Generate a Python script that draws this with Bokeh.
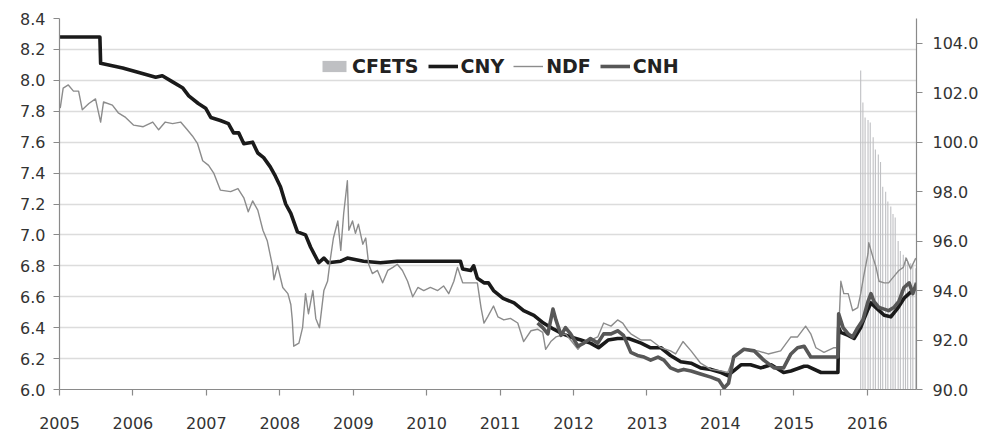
from bokeh.plotting import figure
from bokeh.models import (Range1d, LinearAxis, FixedTicker, NumeralTickFormatter,
                          Legend, LegendItem, ColumnDataSource)
from bokeh.embed import file_html
from bokeh.resources import INLINE

# ---------------- data ----------------
year_ticks = [2005, 2006, 2007, 2008, 2009, 2010, 2011, 2012, 2013, 2014, 2015, 2016]
left_ticks = [6.0, 6.2, 6.4, 6.6, 6.8, 7.0, 7.2, 7.4, 7.6, 7.8, 8.0, 8.2, 8.4]
right_ticks = [90, 92, 94, 96, 98, 100, 102, 104]

cny_t = [2005.00, 2005.55, 2005.56, 2005.86, 2006.08, 2006.31, 2006.40, 2006.54, 2006.68, 2006.76,
         2006.89, 2006.99, 2007.06, 2007.19, 2007.30, 2007.37, 2007.44, 2007.51, 2007.63, 2007.70,
         2007.78, 2007.87, 2007.94, 2008.01, 2008.08, 2008.15, 2008.24, 2008.35, 2008.42, 2008.53,
         2008.60, 2008.66, 2008.83, 2008.92, 2009.14, 2009.37, 2009.60, 2010.05, 2010.46, 2010.49,
         2010.60, 2010.64, 2010.69, 2010.78, 2010.84, 2010.91, 2011.04, 2011.19, 2011.32, 2011.46,
         2011.59, 2011.73, 2011.85, 2011.96, 2012.10, 2012.23, 2012.34, 2012.47, 2012.60, 2012.75,
         2012.92, 2013.05, 2013.19, 2013.32, 2013.46, 2013.60, 2013.73, 2013.87, 2014.01, 2014.10,
         2014.18, 2014.28, 2014.41, 2014.55, 2014.69, 2014.86, 2014.96, 2015.14, 2015.19, 2015.37,
         2015.60, 2015.61, 2015.64, 2015.74, 2015.82, 2015.91, 2015.95, 2016.01, 2016.05, 2016.14,
         2016.23, 2016.32, 2016.42, 2016.50, 2016.59, 2016.67]
cny_v = [8.28, 8.28, 8.11, 8.08, 8.05, 8.02, 8.03, 7.99, 7.95, 7.90,
         7.85, 7.82, 7.76, 7.74, 7.72, 7.66, 7.66, 7.59, 7.60, 7.53,
         7.50, 7.44, 7.38, 7.31, 7.20, 7.14, 7.02, 7.00, 6.92, 6.82,
         6.85, 6.82, 6.83, 6.85, 6.83, 6.82, 6.83, 6.83, 6.83, 6.78,
         6.77, 6.80, 6.72, 6.69, 6.69, 6.64, 6.59, 6.56, 6.51, 6.48,
         6.43, 6.39, 6.36, 6.34, 6.32, 6.30, 6.27, 6.32, 6.33, 6.33,
         6.30, 6.27, 6.27, 6.22, 6.18, 6.17, 6.14, 6.13, 6.11, 6.09,
         6.12, 6.16, 6.16, 6.14, 6.16, 6.11, 6.12, 6.15, 6.15, 6.11,
         6.11, 6.40, 6.37, 6.35, 6.33, 6.40, 6.45, 6.52, 6.56, 6.52,
         6.48, 6.47, 6.53, 6.59, 6.63, 6.66]

ndf_t = [2005.01, 2005.05, 2005.12, 2005.19, 2005.26, 2005.31, 2005.40, 2005.49, 2005.56, 2005.60,
         2005.72, 2005.80, 2005.90, 2006.01, 2006.14, 2006.27, 2006.35, 2006.44, 2006.54, 2006.65,
         2006.74, 2006.81, 2006.88, 2006.95, 2007.03, 2007.10, 2007.19, 2007.33, 2007.43, 2007.51,
         2007.57, 2007.63, 2007.70, 2007.77, 2007.83, 2007.90, 2007.92, 2007.97, 2008.04, 2008.11,
         2008.15, 2008.17, 2008.19, 2008.26, 2008.31, 2008.35, 2008.39, 2008.45, 2008.49, 2008.54,
         2008.60, 2008.65, 2008.69, 2008.73, 2008.79, 2008.83, 2008.87, 2008.92, 2008.94, 2008.99,
         2009.03, 2009.07, 2009.13, 2009.17, 2009.21, 2009.26, 2009.33, 2009.40, 2009.47, 2009.54,
         2009.60, 2009.67, 2009.74, 2009.81, 2009.88, 2009.96, 2010.05, 2010.15, 2010.23, 2010.30,
         2010.37, 2010.42, 2010.49, 2010.56, 2010.64, 2010.69, 2010.74, 2010.78, 2010.83, 2010.91,
         2010.97, 2011.05, 2011.14, 2011.24, 2011.32, 2011.42, 2011.51, 2011.58, 2011.62, 2011.69,
         2011.76, 2011.83, 2011.89, 2011.96, 2012.06, 2012.14, 2012.23, 2012.33, 2012.41, 2012.51,
         2012.60, 2012.67, 2012.74, 2012.78, 2012.92, 2013.05, 2013.19, 2013.32, 2013.39, 2013.49,
         2013.60, 2013.73, 2013.87, 2014.01, 2014.10, 2014.18, 2014.28, 2014.37, 2014.51, 2014.65,
         2014.82, 2014.96, 2015.05, 2015.16, 2015.23, 2015.30, 2015.41, 2015.54, 2015.60, 2015.64,
         2015.68, 2015.74, 2015.80, 2015.87, 2015.91, 2015.95, 2016.01, 2016.02, 2016.08, 2016.12,
         2016.16, 2016.23, 2016.29, 2016.36, 2016.43, 2016.49, 2016.53, 2016.59, 2016.66]
ndf_v = [7.82, 7.95, 7.97, 7.93, 7.93, 7.81, 7.85, 7.88, 7.73, 7.86,
         7.84, 7.79, 7.76, 7.71, 7.70, 7.73, 7.68, 7.73, 7.72, 7.73,
         7.68, 7.64, 7.59, 7.48, 7.45, 7.40, 7.29, 7.28, 7.30, 7.24,
         7.15, 7.22, 7.16, 7.03, 6.96, 6.80, 6.71, 6.80, 6.66, 6.62,
         6.55, 6.45, 6.28, 6.30, 6.40, 6.62, 6.49, 6.64, 6.46, 6.40,
         6.64, 6.70, 6.85, 6.98, 7.09, 6.90, 7.14, 7.35, 7.03, 7.09,
         7.01, 7.07, 6.94, 6.98, 6.81, 6.75, 6.77, 6.69, 6.77, 6.79,
         6.81, 6.77, 6.70, 6.60, 6.66, 6.64, 6.66, 6.64, 6.67, 6.62,
         6.70, 6.79, 6.69, 6.69, 6.69, 6.69, 6.53, 6.43, 6.47, 6.54,
         6.47, 6.45, 6.46, 6.43, 6.31, 6.38, 6.39, 6.37, 6.26, 6.31,
         6.34, 6.35, 6.36, 6.32, 6.26, 6.31, 6.32, 6.34, 6.43, 6.41,
         6.45, 6.43, 6.38, 6.36, 6.32, 6.32, 6.27, 6.25, 6.23, 6.31,
         6.25, 6.17, 6.13, 6.12, 6.11, 6.21, 6.25, 6.26, 6.25, 6.23,
         6.25, 6.34, 6.34, 6.41, 6.36, 6.27, 6.24, 6.27, 6.27, 6.70,
         6.62, 6.62, 6.51, 6.53, 6.62, 6.73, 6.88, 6.95, 6.85, 6.79,
         6.70, 6.69, 6.69, 6.73, 6.77, 6.79, 6.85, 6.78, 6.85]

cnh_t = [2011.51, 2011.58, 2011.65, 2011.72, 2011.76, 2011.83, 2011.89, 2011.96, 2012.06, 2012.14,
         2012.23, 2012.33, 2012.41, 2012.51, 2012.60, 2012.68, 2012.78, 2012.87, 2012.96, 2013.05,
         2013.15, 2013.23, 2013.32, 2013.42, 2013.50, 2013.60, 2013.73, 2013.87, 2013.98, 2014.05,
         2014.11, 2014.18, 2014.32, 2014.46, 2014.59, 2014.73, 2014.86, 2014.96, 2015.05, 2015.14,
         2015.23, 2015.37, 2015.50, 2015.60, 2015.61, 2015.67, 2015.74, 2015.80, 2015.87, 2015.94,
         2016.01, 2016.05, 2016.09, 2016.16, 2016.23, 2016.29, 2016.36, 2016.43, 2016.50, 2016.57,
         2016.62, 2016.67]
cnh_v = [6.43, 6.40, 6.36, 6.52, 6.45, 6.35, 6.40, 6.36, 6.28, 6.30,
         6.33, 6.30, 6.36, 6.36, 6.38, 6.35, 6.24, 6.22, 6.21, 6.19,
         6.21, 6.19, 6.14, 6.12, 6.13, 6.12, 6.10, 6.08, 6.06, 6.01,
         6.04, 6.21, 6.26, 6.25, 6.19, 6.14, 6.14, 6.23, 6.27, 6.28,
         6.21, 6.21, 6.21, 6.21, 6.49, 6.40, 6.36, 6.34, 6.40, 6.45,
         6.57, 6.62, 6.57, 6.53, 6.52, 6.51, 6.53, 6.57, 6.66, 6.69,
         6.62, 6.69]

cfets_t = [2015.91, 2015.94, 2015.97, 2016.01, 2016.04, 2016.08, 2016.11, 2016.15, 2016.18, 2016.21,
           2016.25, 2016.28, 2016.32, 2016.35, 2016.38, 2016.42, 2016.45, 2016.49, 2016.52, 2016.55,
           2016.59, 2016.62, 2016.66]
cfets_v = [102.9, 101.6, 101.0, 100.9, 100.8, 100.2, 99.7, 99.5, 99.2, 98.2,
           98.0, 97.6, 97.4, 97.1, 96.95, 96.0, 95.6, 95.45, 95.35, 95.2,
           95.1, 95.0, 94.9]

# ---------------- figure ----------------
FONT = "DejaVu Sans"
LABEL_COLOR = "#333333"
AXIS_COLOR = "#8a8a8a"

p = figure(width=979, height=435, output_backend="svg", toolbar_location=None,
           x_range=Range1d(2005, 2016.67), y_range=Range1d(6.0, 8.4),
           min_border_left=59, min_border_right=63, min_border_top=18, min_border_bottom=46,
           frame_width=857, frame_height=371)
p.outline_line_color = None
p.background_fill_color = "white"
p.border_fill_color = "white"
p.extra_y_ranges = {"r": Range1d(90, 105)}

# axes
p.xaxis.ticker = FixedTicker(ticks=year_ticks)
p.xaxis.formatter = NumeralTickFormatter(format="0")
p.yaxis.ticker = FixedTicker(ticks=left_ticks)
p.yaxis.formatter = NumeralTickFormatter(format="0.0")
right = LinearAxis(y_range_name="r", ticker=FixedTicker(ticks=right_ticks),
                   formatter=NumeralTickFormatter(format="0.0"))
p.add_layout(right, "right")

for ax in [p.xaxis[0], p.yaxis[0], right]:
    ax.axis_line_color = AXIS_COLOR
    ax.axis_line_width = 1.2
    ax.major_tick_line_color = AXIS_COLOR
    ax.major_tick_line_width = 1.2
    ax.major_tick_out = 6
    ax.major_tick_in = 0
    ax.minor_tick_line_color = None
    ax.major_label_text_font = FONT
    ax.major_label_text_font_size = "16px"
    ax.major_label_text_color = LABEL_COLOR
p.xaxis.major_label_standoff = 21
p.yaxis.major_label_standoff = 8
right.major_label_standoff = 10

p.xgrid.grid_line_color = None
p.ygrid.ticker = FixedTicker(ticks=left_ticks)
p.ygrid.grid_line_color = "#dcdcdc"
p.ygrid.grid_line_width = 1.6

# glyphs
src_cfets = ColumnDataSource(dict(x=cfets_t, top=cfets_v))
r_cfets = p.vbar(x="x", top="top", bottom=90, width=0.015, source=src_cfets,
                 y_range_name="r", fill_color="#bfc0c3", line_color=None)
r_cny = p.line(cny_t, cny_v, line_color="#1a1a1a", line_width=3.6, line_join="round")
r_ndf = p.line(ndf_t, ndf_v, line_color="#8c8c8c", line_width=1.4, line_join="round")
r_cnh = p.line(cnh_t, cnh_v, line_color="#575757", line_width=3.6, line_join="round")

legend = Legend(items=[LegendItem(label="CFETS", renderers=[r_cfets]),
                       LegendItem(label="CNY", renderers=[r_cny]),
                       LegendItem(label="NDF", renderers=[r_ndf]),
                       LegendItem(label="CNH", renderers=[r_cnh])],
                orientation="horizontal", location=(260, 312),
                label_text_font=FONT, label_text_font_style="bold",
                label_text_font_size="19px", label_text_color="#222222",
                glyph_width=30, glyph_height=14, label_standoff=3, spacing=9,
                padding=0, margin=0, border_line_color=None,
                background_fill_alpha=0)
p.add_layout(legend)

open("out.html", "w").write(file_html(p, INLINE))
